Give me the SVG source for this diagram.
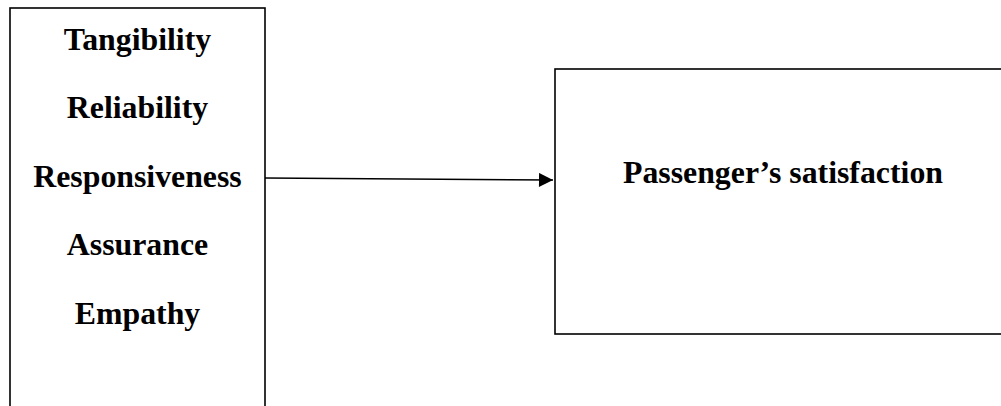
<svg xmlns="http://www.w3.org/2000/svg" width="1001" height="406" viewBox="0 0 1001 406">
  <style>
    .box { fill: #fff; stroke: #000; stroke-width: 1.6; }
    .lbl { font-family: "Liberation Serif", "Times New Roman", serif; font-weight: bold; font-size: 31.8px; fill: #000; text-anchor: middle; }
    .conn { stroke: #000; stroke-width: 1.5; fill: none; }
  </style>
  <defs>
    <marker id="arrow" viewBox="0 0 10 10" refX="10" refY="5" markerUnits="userSpaceOnUse" markerWidth="15" markerHeight="14" orient="auto">
      <path d="M0,0 L10,5 L0,10 Z" fill="#000"/>
    </marker>
  </defs>
  <rect width="1001" height="406" fill="#fff"/>

  <!-- Service quality dimensions -->
  <g id="dimensions">
    <rect class="box" x="10" y="8" width="255" height="420"/>
    <text class="lbl" x="137.5" y="50">Tangibility</text>
    <text class="lbl" x="137.5" y="118">Reliability</text>
    <text class="lbl" x="137.5" y="187">Responsiveness</text>
    <text class="lbl" x="137.5" y="255">Assurance</text>
    <text class="lbl" x="137.5" y="324">Empathy</text>
  </g>

  <!-- Outcome -->
  <g id="satisfaction">
    <rect class="box" x="555" y="69" width="470" height="265"/>
    <text class="lbl" x="783" y="183">Passenger’s satisfaction</text>
  </g>

  <g id="connectors">
    <line class="conn" x1="265" y1="178" x2="553" y2="180" marker-end="url(#arrow)"/>
  </g>
</svg>
